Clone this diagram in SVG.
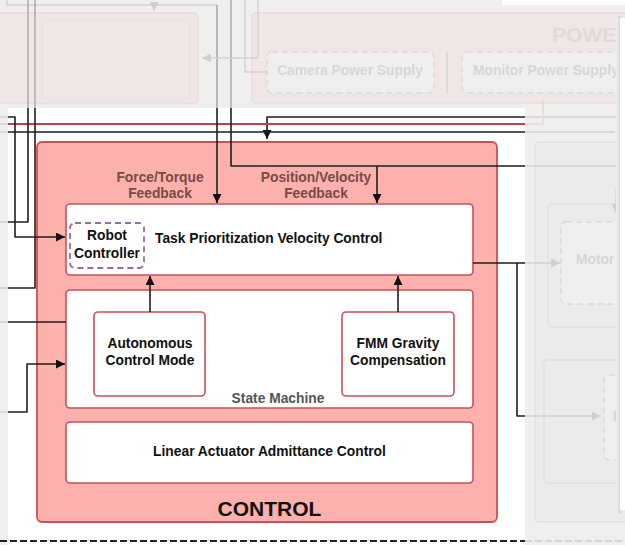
<svg xmlns="http://www.w3.org/2000/svg" width="625" height="545" viewBox="0 0 625 545">
<style>
text{font-family:"Liberation Sans",Arial,sans-serif;font-weight:bold}
.t{font-size:13.8px;fill:#111;text-anchor:middle}
.lbl{font-size:13.8px;fill:#7a4a48;text-anchor:middle}
.ft{font-size:13.8px;fill:#d7d7d7;text-anchor:middle}
.ln{fill:none;stroke:#1e1e1e;stroke-width:1.6;stroke-linejoin:round}
.fl{fill:none;stroke:#d2d2d2;stroke-width:1.4;stroke-linejoin:round}
.fl2{fill:none;stroke:#a8a8a8;stroke-width:1.4}
.box{fill:#fff;stroke:#c9505a;stroke-width:1.6}
.fbox{fill:#f1e6e6;stroke:#ebdada;stroke-width:1.4}
.gbox{fill:#ebebeb;stroke:#e1e1e1;stroke-width:1.4}
.fdash{fill:#efefef;stroke:#dcdcdc;stroke-width:1.6;stroke-dasharray:6 4}
</style>
<defs>
<marker id="ar" viewBox="0 0 10 10" refX="10" refY="5" markerWidth="9" markerHeight="9" markerUnits="userSpaceOnUse" orient="auto"><path d="M0,0 L10,5 L0,10 Z" fill="#111"/></marker>
<marker id="fa" viewBox="0 0 10 10" refX="10" refY="5" markerWidth="9" markerHeight="9" markerUnits="userSpaceOnUse" orient="auto"><path d="M0,0 L10,5 L0,10 Z" fill="#d0d0d0"/></marker>
<linearGradient id="sh" x1="0" x2="1" y1="0" y2="0"><stop offset="0" stop-color="#efefef"/><stop offset="1" stop-color="#d2d2d2"/></linearGradient>
</defs>
<rect width="625" height="545" fill="#efefef"/>
<rect x="502" y="0" width="123" height="5" fill="#fff"/>
<g id="faded-left-box">
<rect x="-6" y="13" width="204" height="90" rx="4" class="fbox"/>
<rect x="42" y="20" width="148" height="80" rx="3" fill="none" stroke="#ebdddd" stroke-width="1.2"/>
</g>
<g id="power">
<rect x="252" y="13" width="390" height="90" rx="4" class="fbox"/>
<text x="552" y="42" style="font-size:21px;fill:#dcdcdc">POWE</text>
<g id="camera-power-supply"><rect x="267" y="52" width="167" height="41" rx="5" class="fdash"/><text x="350" y="75" class="ft">Camera Power Supply</text></g>
<g id="monitor-power-supply"><rect x="462" y="52" width="170" height="41" rx="5" class="fdash"/><text x="473" y="75" class="ft" style="text-anchor:start">Monitor Power Supply</text></g>
</g>
<g id="faded-right">
<rect x="535" y="142" width="110" height="380" rx="4" class="gbox"/>
<rect x="548" y="204" width="100" height="123" rx="4" class="gbox"/>
<rect x="561" y="222" width="90" height="82" rx="5" class="fdash"/>
<text x="576" y="264" class="ft" style="text-anchor:start">Motor</text>
<rect x="544" y="360" width="100" height="123" rx="4" class="gbox"/>
<rect x="604" y="375" width="40" height="85" rx="5" class="fdash"/>
<text x="613" y="421" class="ft" style="text-anchor:start">R</text>
</g>
<g id="faded-connectors">
<path class="fl" d="M7,0 V5 H217 V108"/>
<path class="fl" d="M154,5 V11" marker-end="url(#fa)"/>
<path class="fl2" d="M28,0 V108 M35,0 V108 M217,5 V108 M231,0 V108"/>
<path class="fl" d="M245,0 V72 H267"/>
<path class="fl" d="M258,0 V58 H202" marker-end="url(#fa)"/>
<path class="fl" d="M447,52 V93"/>
<path class="fl" d="M0,117 H8 M0,124 H8 M0,132 H8 M0,222 H8 M0,288 H8 M0,322 H8 M0,412 H8"/>
<path class="fl" d="M525,117 H625"/>
<path fill="none" stroke="#ecd6d6" stroke-width="1.6" d="M525,124 H543 V100"/>
<path class="fl" d="M525,132 H615"/>
<path class="fl" d="M525,166 H625"/>
<path class="fl" d="M525,263 H560" marker-end="url(#fa)"/>
<path class="fl" d="M525,416 H601" marker-end="url(#fa)"/>
<path class="fl" d="M616,190 V213" marker-end="url(#fa)"/>
<path stroke="#d6d6d6" stroke-width="2" stroke-dasharray="7 3" d="M525,541 H625"/>
</g>
<rect x="616" y="16" width="5" height="497" fill="url(#sh)"/>
<rect x="620" y="18" width="10" height="492" fill="#fff"/>
<rect x="8" y="108" width="517" height="437" fill="#fff"/>
<g id="control">
<rect x="37" y="142" width="460" height="380" rx="5" fill="#fcb1ac" stroke="#c9505a" stroke-width="1.8"/>
<text x="269.5" y="516" class="t" style="font-size:21px">CONTROL</text>
<text x="160" y="181.5" class="lbl">Force/Torque</text>
<text x="160" y="197.5" class="lbl">Feedback</text>
<text x="316" y="181.5" class="lbl">Position/Velocity</text>
<text x="316" y="197.5" class="lbl">Feedback</text>
</g>
<g id="task-prioritization">
<rect x="66" y="204" width="407" height="71" rx="4" class="box"/>
<text x="155" y="243" class="t" style="text-anchor:start">Task Prioritization Velocity Control</text>
</g>
<g id="robot-controller">
<rect x="70" y="223" width="74" height="45" rx="5" fill="#fff" stroke="#9a6aa2" stroke-width="1.8" stroke-dasharray="6 4"/>
<text x="107" y="240" class="t">Robot</text>
<text x="107" y="257.5" class="t">Controller</text>
</g>
<g id="state-machine">
<rect x="66" y="290" width="407" height="118" rx="4" class="box"/>
<text x="278" y="403" class="t" style="fill:#555">State Machine</text>
</g>
<g id="autonomous-control-mode">
<rect x="94" y="312" width="111" height="84" rx="4" class="box"/>
<text x="150" y="348" class="t">Autonomous</text>
<text x="150" y="365" class="t">Control Mode</text>
</g>
<g id="fmm-gravity-compensation">
<rect x="342" y="312" width="112" height="84" rx="4" class="box"/>
<text x="398" y="348" class="t">FMM Gravity</text>
<text x="398" y="365" class="t">Compensation</text>
</g>
<g id="linear-actuator-admittance-control">
<rect x="66" y="422" width="407" height="61" rx="4" class="box"/>
<text x="269.5" y="456" class="t">Linear Actuator Admittance Control</text>
</g>
<g id="connectors">
<path class="ln" d="M525,117 H267 V139" marker-end="url(#ar)"/>
<path fill="none" stroke="#c0404c" stroke-width="1.8" d="M8,124 H525"/>
<path class="ln" d="M8,132 H525"/>
<path class="ln" d="M8,117 H15 V237 H65" marker-end="url(#ar)"/>
<path class="ln" d="M28,108 V222 H8"/>
<path class="ln" d="M35,108 V288 H8"/>
<path class="ln" d="M217,108 V203" marker-end="url(#ar)"/>
<path class="ln" d="M231,108 V166 H525"/>
<path class="ln" d="M377,166 V203" marker-end="url(#ar)"/>
<path class="ln" d="M8,322 H66"/>
<path class="ln" d="M8,412 H27 V364 H65" marker-end="url(#ar)"/>
<path class="ln" d="M473,263 H525 M517,263 V416 H525"/>
<path class="ln" d="M150,312 V276" marker-end="url(#ar)"/>
<path class="ln" d="M398,312 V276" marker-end="url(#ar)"/>
<path stroke="#222" stroke-width="2" stroke-dasharray="7 3" d="M0,541 H525"/>
</g>
</svg>
